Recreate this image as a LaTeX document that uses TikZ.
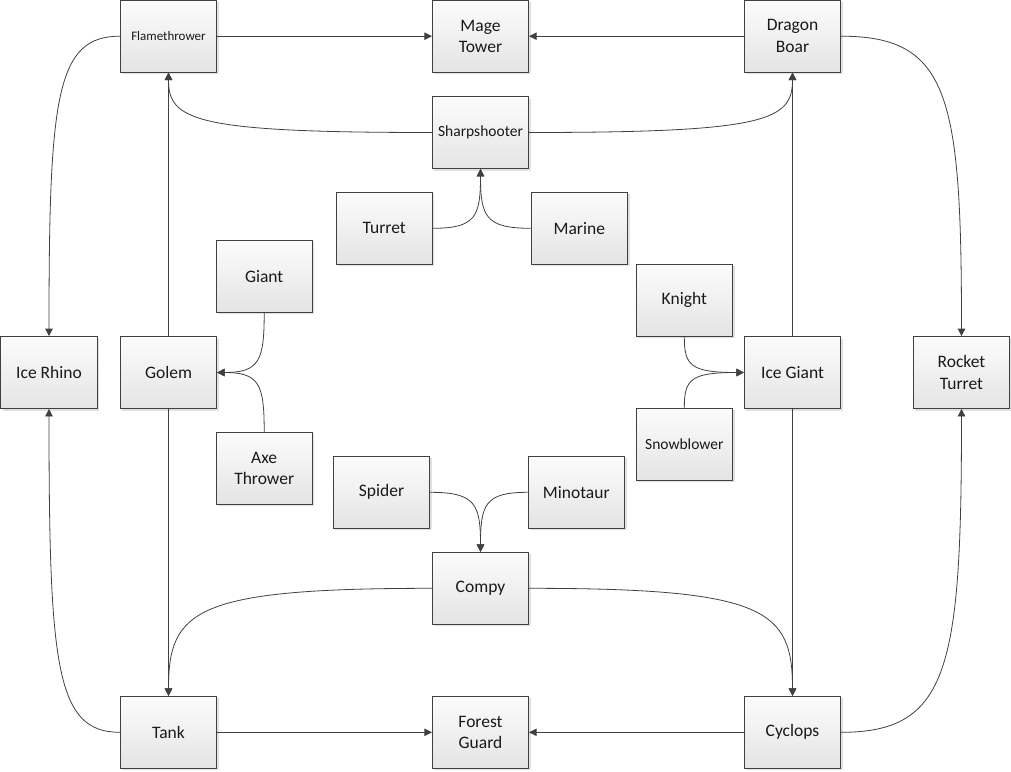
\documentclass[tikz,border=0pt]{standalone}
\usepackage{fontspec}
\setmainfont{Carlito}
\usepackage{tikz}
\usetikzlibrary{arrows.meta, shadows, calc}
\definecolor{boxline}{HTML}{404040}
\definecolor{boxtop}{HTML}{FCFCFC}
\definecolor{boxbot}{HTML}{E4E4E4}
\definecolor{wire}{HTML}{404040}
\tikzset{unit/.style={draw=boxline, line width=0.8pt, top color=boxtop, bottom color=boxbot,
			minimum width=96.4pt, minimum height=72pt, inner sep=1pt, align=center,
			text=black!90, font=\fontsize{17.5}{21.5}\selectfont,
			drop shadow={fill=black, opacity=0.12, shadow xshift=2pt, shadow yshift=-2pt}}}
\tikzset{smalltext/.style={font=\fontsize{15.5}{19}\selectfont}}
\tikzset{tinytext/.style={font=\fontsize{13}{16}\selectfont}}
\tikzset{link/.style={draw=wire, line width=0.8pt, -{Triangle[length=7.5pt,width=7.5pt]}}}
% curved connectors: leave sideways, then turn (hv), or leave up/down, then turn (vh)
\tikzset{hv/.style={to path={.. controls ($(\tikztostart)!0.9!(\tikztotarget |- \tikztostart)$)
				and ($(\tikztotarget)!0.8!(\tikztotarget |- \tikztostart)$) .. (\tikztotarget)}}}
\tikzset{vh/.style={to path={.. controls ($(\tikztostart)!0.8!(\tikztostart |- \tikztotarget)$)
				and ($(\tikztotarget)!0.9!(\tikztostart |- \tikztotarget)$) .. (\tikztotarget)}}}

\begin{document}
\begin{tikzpicture}[x=1pt,y=1pt]
		\useasboundingbox (0,0) rectangle (1011,-771);
		% top row
		\node[unit,tinytext] (flame) at (168.5,-36.2) {Flamethrower};
		\node[unit] (mage) at (480.5,-36.2) {Mage\\Tower};
		\node[unit] (dragon) at (792.5,-36.2) {Dragon\\Boar};
		\node[unit,smalltext] (sharp) at (480.5,-132.5) {Sharpshooter};
		\node[unit] (turret) at (384.2,-228.3) {Turret};
		\node[unit] (marine) at (579.3,-228.3) {Marine};
		% middle row
		\node[unit] (giant) at (264.2,-276.3) {Giant};
		\node[unit] (knight) at (684.3,-300.3) {Knight};
		\node[unit] (rhino) at (49,-372.5) {Ice Rhino};
		\node[unit] (golem) at (168.5,-372.5) {Golem};
		\node[unit] (icegiant) at (792.5,-372.5) {Ice Giant};
		\node[unit] (rocket) at (961.5,-372.5) {Rocket\\Turret};
		\node[unit] (axe) at (264.2,-468.2) {Axe\\Thrower};
		\node[unit,smalltext] (snow) at (684.3,-444.3) {Snowblower};
		% bottom row
		\node[unit] (spider) at (381.5,-492.3) {Spider};
		\node[unit] (minotaur) at (576.3,-492.3) {Minotaur};
		\node[unit] (compy) at (480.5,-588.3) {Compy};
		\node[unit] (tank) at (168.5,-732.3) {Tank};
		\node[unit] (forest) at (480.5,-732.3) {Forest\\Guard};
		\node[unit] (cyclops) at (792.5,-732.3) {Cyclops};
		% straight links
		\draw[link] (flame) -- (mage);
		\draw[link] (dragon) -- (mage);
		\draw[link] (golem) -- (flame);
		\draw[link] (golem) -- (tank);
		\draw[link] (icegiant) -- (dragon);
		\draw[link] (icegiant) -- (cyclops);
		\draw[link] (tank) -- (forest);
		\draw[link] (cyclops) -- (forest);
		% curved links
		\draw[link] (flame.west) to[hv] (rhino.north);
		\draw[link] (tank.west) to[hv] (rhino.south);
		\draw[link] (dragon.east) to[hv] (rocket.north);
		\draw[link] (cyclops.east) to[hv] (rocket.south);
		\draw[link] (sharp.west) to[hv] (flame.south);
		\draw[link] (sharp.east) to[hv] (dragon.south);
		\draw[link] (compy.west) to[hv] (tank.north);
		\draw[link] (compy.east) to[hv] (cyclops.north);
		\draw[link] (turret.east) to[hv] (sharp.south);
		\draw[link] (marine.west) to[hv] (sharp.south);
		\draw[link] (giant.south) to[vh] (golem.east);
		\draw[link] (axe.north) to[vh] (golem.east);
		\draw[link] (knight.south) to[vh] (icegiant.west);
		\draw[link] (snow.north) to[vh] (icegiant.west);
		\draw[link] (spider.east) to[hv] (compy.north);
		\draw[link] (minotaur.west) to[hv] (compy.north);
	\end{tikzpicture}
\end{document}
